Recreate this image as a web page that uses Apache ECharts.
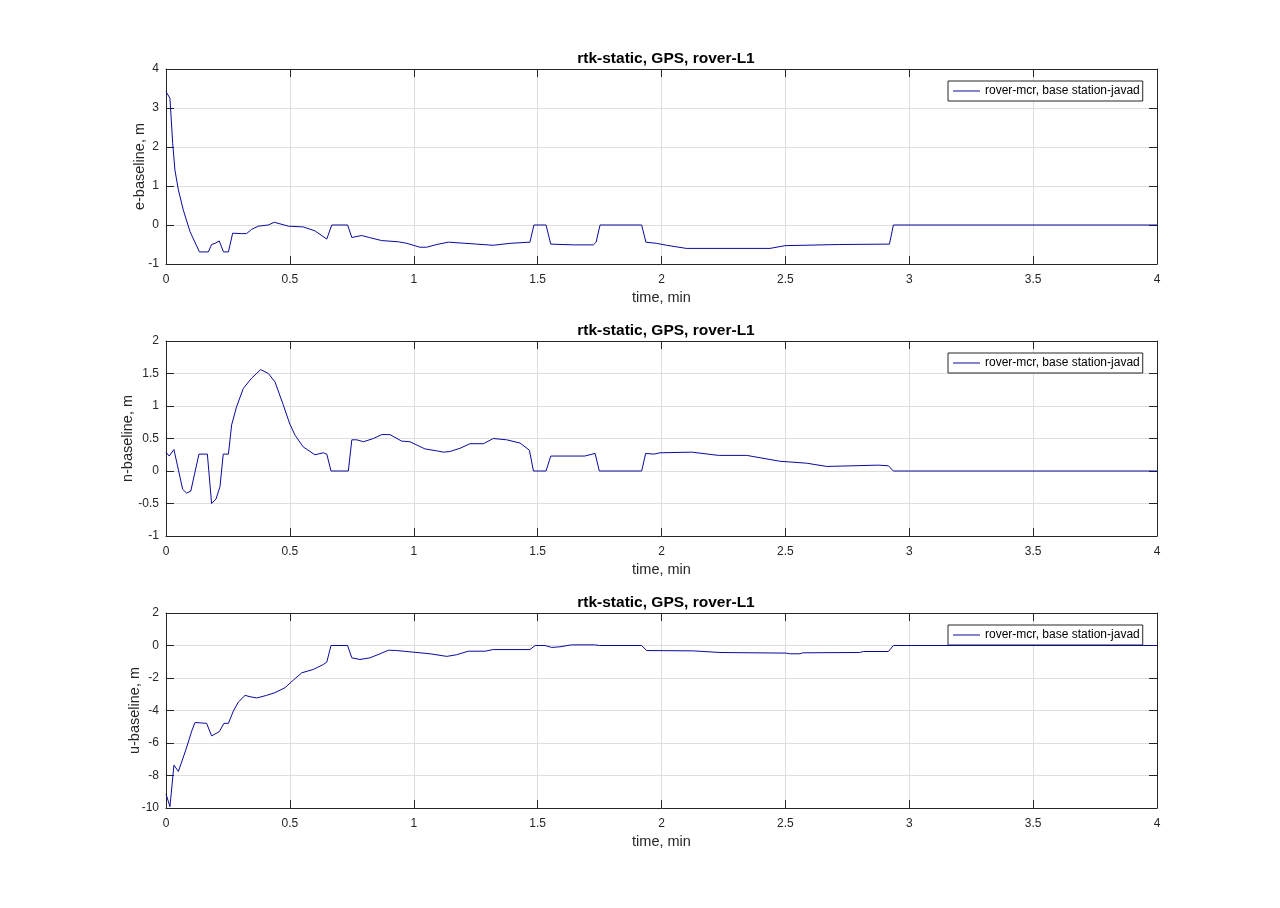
<!DOCTYPE html>
<html>
<head>
<meta charset="utf-8">
<script src="https://cdn.jsdelivr.net/npm/echarts@6/dist/echarts.min.js"></script>
<style>
  html, body { margin: 0; padding: 0; background: #fff; }
  #chart { width: 1280px; height: 908px; }
</style>
</head>
<body>
<div id="chart"></div>
<script>
// e-baseline, m
const eTime = [0,0.016,0.027,0.036,0.05,0.07,0.097,0.135,0.171,0.184,0.198,0.215,0.232,0.252,0.269,0.305,0.325,0.346,0.373,0.413,0.437,0.46,0.494,0.554,0.601,0.649,0.669,0.733,0.75,0.79,0.82,0.871,0.938,0.972,1.025,1.052,1.093,1.14,1.187,1.254,1.321,1.389,1.469,1.485,1.534,1.553,1.644,1.725,1.736,1.752,1.92,1.937,1.98,2.021,2.10,2.438,2.498,2.72,2.92,2.936,4];
const eVal = [3.42,3.25,2.09,1.41,0.90,0.38,-0.17,-0.69,-0.69,-0.5,-0.47,-0.41,-0.69,-0.69,-0.21,-0.22,-0.22,-0.11,-0.03,0,0.07,0.03,-0.03,-0.05,-0.15,-0.36,0,0,-0.32,-0.27,-0.32,-0.40,-0.43,-0.47,-0.57,-0.57,-0.5,-0.44,-0.46,-0.49,-0.52,-0.47,-0.44,0,0,-0.49,-0.51,-0.51,-0.44,0,0,-0.44,-0.47,-0.52,-0.60,-0.60,-0.53,-0.50,-0.49,0,0];

// n-baseline, m
const nTime = [0,0.013,0.032,0.05,0.067,0.083,0.1,0.133,0.167,0.184,0.202,0.218,0.231,0.252,0.265,0.285,0.312,0.346,0.382,0.413,0.44,0.473,0.5,0.521,0.554,0.601,0.635,0.649,0.666,0.736,0.75,0.77,0.797,0.837,0.871,0.904,0.951,0.985,1.045,1.093,1.12,1.146,1.187,1.227,1.281,1.321,1.375,1.429,1.467,1.483,1.534,1.553,1.69,1.732,1.749,1.92,1.936,1.97,1.994,2.122,2.23,2.344,2.478,2.586,2.667,2.875,2.916,2.936,4];
const nVal = [0.29,0.23,0.33,0.02,-0.28,-0.34,-0.31,0.26,0.26,-0.50,-0.43,-0.24,0.26,0.26,0.71,0.99,1.27,1.43,1.56,1.50,1.37,1.02,0.72,0.55,0.37,0.25,0.28,0.26,0,0,0.48,0.48,0.45,0.50,0.56,0.56,0.46,0.45,0.34,0.31,0.29,0.30,0.35,0.42,0.42,0.50,0.48,0.43,0.32,0,0,0.23,0.23,0.27,0,0,0.27,0.26,0.28,0.29,0.24,0.24,0.15,0.12,0.07,0.09,0.08,0,0];

// u-baseline, m
const uTime = [0,0.016,0.032,0.05,0.081,0.104,0.117,0.164,0.184,0.215,0.234,0.252,0.272,0.292,0.319,0.339,0.366,0.406,0.44,0.48,0.514,0.548,0.595,0.635,0.649,0.666,0.733,0.75,0.783,0.823,0.864,0.898,0.931,0.998,1.066,1.133,1.173,1.22,1.288,1.321,1.469,1.49,1.53,1.557,1.59,1.637,1.73,1.75,1.92,1.94,2.128,2.236,2.505,2.518,2.559,2.57,2.8,2.815,2.916,2.936,4];
const uVal = [-9.14,-9.92,-7.36,-7.75,-6.38,-5.26,-4.74,-4.79,-5.56,-5.30,-4.79,-4.79,-4.03,-3.48,-3.07,-3.15,-3.23,-3.07,-2.90,-2.60,-2.13,-1.68,-1.47,-1.17,-1.02,0,0,-0.76,-0.86,-0.76,-0.51,-0.29,-0.31,-0.41,-0.51,-0.67,-0.57,-0.35,-0.35,-0.25,-0.25,0,0,-0.12,-0.08,0.04,0.04,0,0,-0.31,-0.33,-0.43,-0.47,-0.51,-0.51,-0.45,-0.43,-0.37,-0.37,0,0];

const titles = ["rtk-static, GPS, rover-L1", "rtk-static, GPS, rover-L1", "rtk-static, GPS, rover-L1"];
const yNames = ["e-baseline, m", "n-baseline, m", "u-baseline, m"];
const xName = "time, min";
const seriesName = "rover-mcr, base station-javad";
const yMin = [-1, -1, -10];
const yMax = [4, 2, 2];
const yStep = [1, 0.5, 2];

const font = "'Liberation Sans', Arial, Helvetica, sans-serif";
const ink = "#262626";
const gridInk = "#dedede";
const lineColor = "#0a0a9a";
const tops = [69, 341, 613];
const plotH = 195;
const yNameGap = [19, 31, 24];

const pairs = (t, v) => t.map((x, i) => [x, v[i]]);
const allData = [pairs(eTime, eVal), pairs(nTime, nVal), pairs(uTime, uVal)];

const grid = [], xAxis = [], yAxis = [], series = [], title = [], legend = [];

for (let i = 0; i < 3; i++) {
  grid.push({ left: 166, right: 123, top: tops[i], height: plotH, show: false });
  title.push({
    text: titles[i], left: 661, top: tops[i] - 23, textAlign: "center",
    textStyle: { fontFamily: font, fontSize: 15.5, fontWeight: "bold", color: "#000" }
  });
  // bottom x axis
  xAxis.push({
    type: "value", gridIndex: i, min: 0, max: 4, interval: 0.5, position: "bottom",
    name: xName, nameLocation: "middle", nameGap: 26, nameMoveOverlap: false,
    nameTextStyle: { fontFamily: font, fontSize: 14.5, color: ink },
    axisLine: { show: true, onZero: false, lineStyle: { color: ink, width: 1 } },
    axisTick: { show: true, inside: true, length: 8, lineStyle: { color: ink } },
    axisLabel: { fontFamily: font, fontSize: 12, color: ink, margin: 10 },
    splitLine: { show: true, lineStyle: { color: gridInk, width: 1 } }
  });
  // top x axis (box edge + ticks)
  xAxis.push({
    type: "value", gridIndex: i, min: 0, max: 4, interval: 0.5, position: "top",
    axisLine: { show: true, onZero: false, lineStyle: { color: ink, width: 1 } },
    axisTick: { show: true, inside: true, length: 8, lineStyle: { color: ink } },
    axisLabel: { show: false }, splitLine: { show: false }
  });
  // left y axis
  yAxis.push({
    type: "value", gridIndex: i, min: yMin[i], max: yMax[i], interval: yStep[i], position: "left",
    name: yNames[i], nameLocation: "middle", nameGap: yNameGap[i], nameRotate: 90, nameMoveOverlap: false,
    nameTextStyle: { fontFamily: font, fontSize: 14.5, color: ink },
    axisLine: { show: true, onZero: false, lineStyle: { color: ink, width: 1 } },
    axisTick: { show: true, inside: true, length: 8, lineStyle: { color: ink } },
    axisLabel: { fontFamily: font, fontSize: 12, color: ink, margin: 7 },
    splitLine: { show: true, lineStyle: { color: gridInk, width: 1 } }
  });
  // right y axis (box edge + ticks)
  yAxis.push({
    type: "value", gridIndex: i, min: yMin[i], max: yMax[i], interval: yStep[i], position: "right",
    axisLine: { show: true, onZero: false, lineStyle: { color: ink, width: 1 } },
    axisTick: { show: true, inside: true, length: 8, lineStyle: { color: ink } },
    axisLabel: { show: false }, splitLine: { show: false }
  });
  series.push({
    name: seriesName, type: "line", xAxisIndex: i * 2, yAxisIndex: i * 2,
    data: allData[i], symbol: "none", showSymbol: false, smooth: false,
    lineStyle: { color: lineColor, width: 1 }, itemStyle: { color: lineColor },
    z: 5
  });
  legend.push({
    data: [seriesName], left: 948, top: tops[i] + 12, orient: "vertical",
    icon: "rect", itemWidth: 27, itemHeight: 1,
    padding: [4, 3, 4, 5], borderColor: ink, borderWidth: 1, backgroundColor: "#fff",
    textStyle: { fontFamily: font, fontSize: 12, color: "#000" },
    selectedMode: false
  });
}

const chart = echarts.init(document.getElementById("chart"));
chart.setOption({
  backgroundColor: "#fff",
  animation: false,
  title, grid, xAxis, yAxis, series, legend
});
</script>
</body>
</html>
